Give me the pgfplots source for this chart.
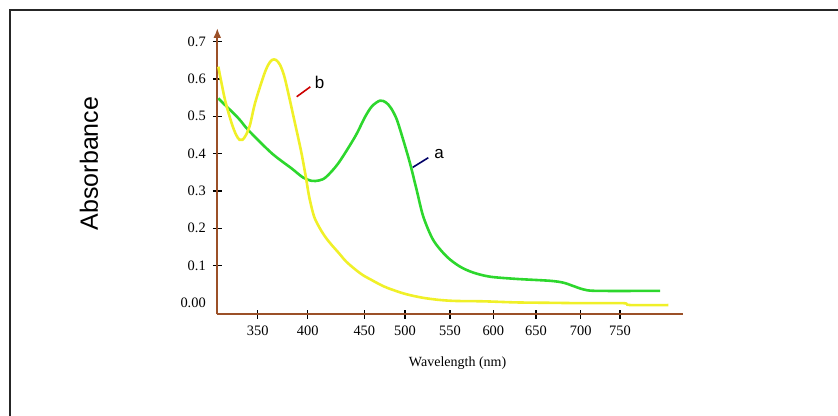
\documentclass[border=0pt]{standalone}
\usepackage{pgfplots}
\pgfplotsset{compat=1.18}
\usetikzlibrary{arrows.meta}
\usepackage{fontspec}
\setmainfont{Liberation Serif}
\newfontfamily\arialfont{Liberation Sans}
\definecolor{curvegreen}{RGB}{45,215,45}
\definecolor{curveyellow}{RGB}{240,240,40}
\definecolor{axisbrown}{RGB}{155,80,40}
\begin{document}
\begin{tikzpicture}
\path[use as bounding box] (0,0) rectangle (419pt,208pt);
\draw[line width=1pt, black!85] (5pt,0pt) -- (5pt,203pt) -- (419pt,203pt);
\begin{axis}[
 at={(108.65pt,50.85pt)}, anchor=south west,
 scale only axis, width=232.85pt, height=143.15pt,
 xmin=217.3, xmax=683, ymin=-0.0308, ymax=0.7367,
 enlargelimits=false,
 axis lines=left,
 axis line style={axisbrown, line width=1pt},
 x axis line style={-},
 y axis line style={-{Latex[length=5pt,width=4pt]}},
 xtick={257.7,307.7,364.3,405,450,493.3,536,580.7,620},
 xticklabels={350,400,450,500,550,600,650,700,750},
 ytick={0.1,0.2,0.3,0.4,0.5,0.6,0.7},
 yticklabels={0.1,0.2,0.3,0.4,0.5,0.6,0.7},
 extra y ticks={0}, extra y tick labels={0.00},
 extra y tick style={major tick style={draw=none}},
 tick align=center, major tick length=4.5pt,
 major tick style={black, line width=0.65pt},
 ticklabel style={font=\fontsize{7.2}{8}\selectfont},
 xlabel={Wavelength (nm)}, ylabel={Absorbance},
 xlabel style={at={(axis description cs:0.516,-0.171)}, anchor=center, font=\fontsize{7}{8}\selectfont},
 ylabel style={at={(axis description cs:-0.2755,0.527)}, anchor=center, font=\arialfont\fontsize{12.5}{14}\selectfont},
 clip=false,
]
% curve a (green)
\addplot[curvegreen, line width=1.3pt, smooth, tension=0.5] coordinates {
(218.3,0.548) (238.3,0.495) (248.3,0.463) (271.7,0.401) (291.7,0.360)
(303,0.336) (311.7,0.327) (319,0.328) (326,0.337) (338.3,0.374) (355,0.445)
(365,0.498) (372,0.527) (380,0.542) (386,0.537) (391,0.522) (396.7,0.492)
(403.3,0.436) (410,0.374) (416.7,0.302) (423.3,0.231) (433.3,0.168)
(446.7,0.124) (460,0.097) (473.3,0.081) (490,0.070) (516.7,0.064)
(550,0.059) (563.3,0.054) (573.3,0.045) (583.3,0.036) (596.7,0.032) (660,0.032)
};
% curve b (yellow)
\addplot[curveyellow, line width=1.3pt, smooth, tension=0.5] coordinates {
(218.3,0.633) (225,0.544) (231.7,0.481) (236,0.451) (239.5,0.437) (242.5,0.437)
(246,0.450) (250,0.477) (255,0.535) (263.3,0.606) (268,0.637) (272,0.651)
(276,0.651) (280,0.638) (284,0.610) (288.3,0.562) (295,0.481) (301.2,0.405)
(305.8,0.338) (309.2,0.284) (314,0.232) (320,0.199) (326,0.174) (332,0.154)
(338.3,0.135) (346,0.111) (355,0.090) (363,0.074) (371.7,0.061) (380,0.049)
(388.3,0.039) (405,0.024) (421.7,0.014) (438.3,0.008)
(455,0.005) (483.3,0.004) (516.7,0.001) (550,0.000) (583.3,-0.001)
(623.3,-0.001) (630,-0.006) (668.3,-0.006)
};
\draw[red!80!black, line width=0.8pt] (axis cs:296.7,0.5525) -- (axis cs:310.3,0.579);
\node[font=\arialfont\fontsize{8.5}{10}\selectfont] at (axis cs:319.7,0.590) {b};
\draw[blue!40!black, line width=0.8pt] (axis cs:412.7,0.363) -- (axis cs:428.3,0.389);
\node[font=\arialfont\fontsize{8.5}{10}\selectfont] at (axis cs:439,0.398) {a};
\end{axis}
\end{tikzpicture}
\end{document}
